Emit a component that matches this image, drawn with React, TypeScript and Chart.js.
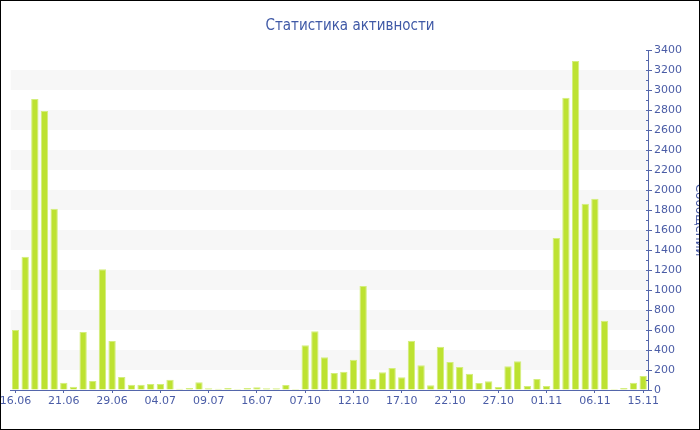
import React, { useEffect, useRef } from "react";
import { Chart, registerables } from "chart.js";

Chart.register(...registerables);

const chartTitle = "Статистика активности";
const axisTitle = "Сообщений";

const dateLabels: string[] = [
  "16.06", "17.06", "18.06", "19.06", "20.06",
  "21.06", "22.06", "24.06", "26.06", "28.06",
  "29.06", "30.06", "01.07", "02.07", "03.07",
  "04.07", "05.07", "06.07", "07.07", "08.07",
  "09.07", "10.07", "11.07", "13.07", "15.07",
  "16.07", "17.07", "18.07", "19.07", "20.07",
  "07.10", "08.10", "09.10", "10.10", "11.10",
  "12.10", "13.10", "14.10", "15.10", "16.10",
  "17.10", "18.10", "19.10", "20.10", "21.10",
  "22.10", "23.10", "24.10", "25.10", "26.10",
  "27.10", "28.10", "29.10", "30.10", "31.10",
  "01.11", "02.11", "03.11", "04.11", "05.11",
  "06.11", "07.11", "08.11", "12.11", "14.11",
  "15.11",
];

const messageCounts: number[] = [
  600, 1333, 2910, 2790, 1813,
  73, 33, 580, 90, 1207,
  490, 130, 53, 53, 60,
  60, 103, 13, 20, 77,
  17, 13, 20, 10, 20,
  27, 17, 17, 50, 10,
  447, 587, 327, 170, 183,
  303, 1040, 110, 177, 220,
  127, 493, 247, 47, 433,
  280, 230, 163, 70, 87,
  30, 237, 287, 40, 110,
  40, 1520, 2923, 3290, 1863,
  1913, 693, 10, 20, 73,
  140,
];

const yMin = 0;
const yMax = 3400;
const yStep = 100;
const labelEvery = 5;

const BAR = "#bde231";
const BAR_EDGE = "#d3ee7c";
const AXIS = "#5466ab";
const TICK = "#4a5ca6";
const TITLE = "#3f59a6";
const BAND = "#f7f7f7";

const bandsPlugin = {
  id: "bands",
  beforeDatasetsDraw(chart: any) {
    const { ctx, chartArea } = chart;
    const y = chart.scales.y;
    ctx.save();
    ctx.fillStyle = BAND;
    for (let v = 200; v + 200 <= yMax; v += 400) {
      const top = y.getPixelForValue(v + 200);
      const bottom = y.getPixelForValue(v);
      ctx.fillRect(chartArea.left, top, chartArea.right - chartArea.left, bottom - top);
    }
    ctx.restore();
  },
};

const stubsPlugin = {
  id: "stubs",
  afterDraw(chart: any) {
    const { ctx, chartArea } = chart;
    const y = chart.scales.y;
    ctx.save();
    ctx.strokeStyle = AXIS;
    ctx.lineWidth = 1;
    ctx.beginPath();
    for (const t of y.ticks) {
      const py = Math.round(y.getPixelForValue(t.value)) + 0.5;
      ctx.moveTo(chartArea.right - 2, py);
      ctx.lineTo(chartArea.right, py);
    }
    ctx.stroke();
    ctx.restore();
  },
};

export default function App() {
  const ref = useRef<HTMLCanvasElement | null>(null);

  useEffect(() => {
    document.body.style.margin = "0";
    const canvas = ref.current;
    if (!canvas) return;
    Chart.defaults.font.family = "'DejaVu Sans', Verdana, sans-serif";
    Chart.defaults.font.size = 11;
    const chart = new Chart(canvas, {
      type: "bar",
      data: {
        labels: dateLabels,
        datasets: [
          {
            data: messageCounts,
            backgroundColor: BAR,
            borderColor: BAR_EDGE,
            borderWidth: 1,
            barPercentage: 0.76,
            categoryPercentage: 1,
          },
        ],
      },
      options: {
        responsive: false,
        animation: false,
        layout: { padding: { left: 0, right: 0, top: 0, bottom: 18.8 } },
        plugins: {
          legend: { display: false },
          tooltip: { enabled: false },
          title: {
            display: true,
            text: chartTitle,
            color: TITLE,
            font: {
              family: "'DejaVu Sans Condensed', 'DejaVu Sans', sans-serif",
              size: 15,
              weight: "normal",
            },
            padding: { top: 16.3, bottom: 14.7 },
          },
        },
        scales: {
          x: {
            grid: {
              drawOnChartArea: false,
              offset: false,
              tickLength: 3,
              color: (c: any) => (c.index % labelEvery === 0 ? AXIS : "rgba(0,0,0,0)"),
            },
            border: { color: AXIS },
            ticks: {
              autoSkip: false,
              maxRotation: 0,
              minRotation: 0,
              padding: 2,
              color: TICK,
              callback: (_v: any, i: number) => (i % labelEvery === 0 ? dateLabels[i] : ""),
            },
            afterFit: (s: any) => {
              s.paddingLeft = 16.7;
              s.paddingRight = 0;
            },
          },
          y: {
            position: "right",
            min: yMin,
            max: yMax,
            ticks: {
              stepSize: yStep,
              autoSkip: false,
              padding: 2,
              color: TICK,
              callback: (v: any) => (Number(v) % 200 === 0 ? String(v) : ""),
            },
            grid: {
              drawOnChartArea: false,
              tickLength: 4,
              color: (c: any) =>
                c.tick && c.tick.value % 200 === 0 ? AXIS : "rgba(0,0,0,0)",
            },
            border: { color: AXIS },
            title: {
              display: true,
              text: axisTitle,
              color: TICK,
              font: { size: 12 },
              padding: { top: 0, bottom: 7.6 },
            },
          },
        },
      },
      plugins: [bandsPlugin, stubsPlugin],
    } as any);
    return () => chart.destroy();
  }, []);

  return (
    <div
      style={{
        position: "relative",
        width: 700,
        height: 430,
        boxSizing: "border-box",
        border: "1px solid #000",
        overflow: "hidden",
        background: "#fff",
      }}
    >
      <canvas
        ref={ref}
        width={712}
        height={428}
        style={{ position: "absolute", left: -7, top: 0, width: 712, height: 428, display: "block" }}
      />
    </div>
  );
}
